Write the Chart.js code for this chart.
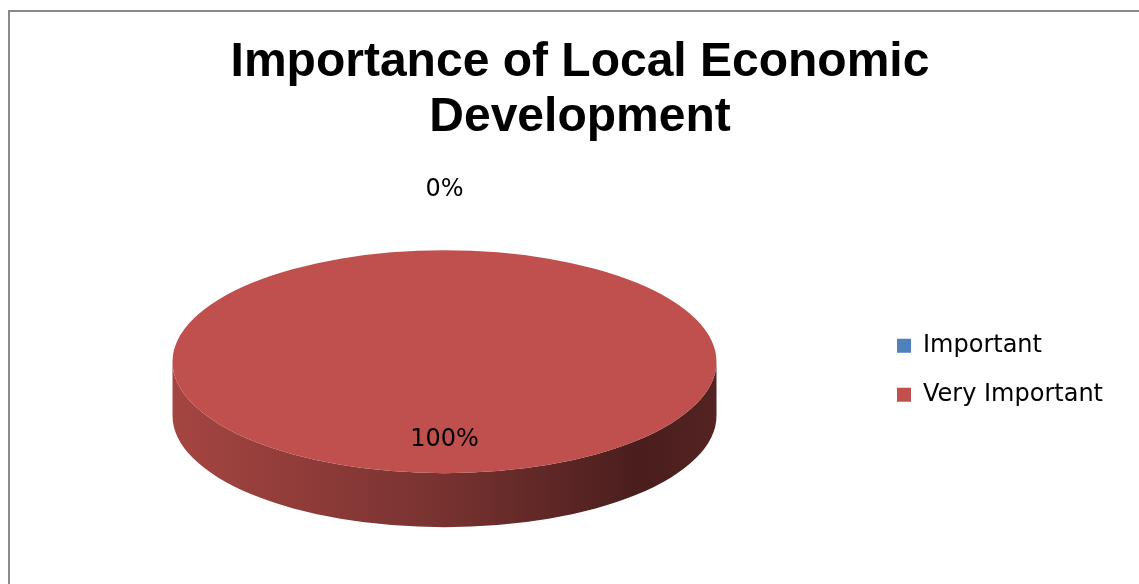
<!DOCTYPE html>
<html>
<head>
<meta charset="utf-8">
<script src="https://cdn.jsdelivr.net/npm/chart.js@4"></script>
<style>
html, body { margin: 0; padding: 0; background: #fff; overflow: hidden; }
#frame { position: absolute; left: 8px; top: 10px; width: 1200px; height: 700px; border: 2px solid #8a8a8a; }
#wrap { position: absolute; left: 0; top: 0; width: 1139px; height: 584px; }
</style>
</head>
<body>
<div id="frame"></div>
<div id="wrap"><canvas id="myChart"></canvas></div>
<script>
const categories = ['Important', 'Very Important'];
const shares = [0, 100];
const sliceColors = ['#4F81BD', '#C0504D'];
const titleLines = ['Importance of Local Economic', 'Development'];

// look of the tilted disc
const rx = 272, ry = 111.5, depth = 54, lift = -8.5, shiftX = -15;

function shade(hex, f) {
    const n = parseInt(hex.slice(1), 16);
    const r = Math.round(((n >> 16) & 255) * f);
    const g = Math.round(((n >> 8) & 255) * f);
    const b = Math.round((n & 255) * f);
    return 'rgb(' + r + ',' + g + ',' + b + ')';
}

// parts of an arc that face the viewer (angles 0..PI)
function frontRanges(s, e) {
    const out = [];
    for (let k = -1; k <= 1; k++) {
        const lo = Math.max(s, 2 * Math.PI * k);
        const hi = Math.min(e, Math.PI + 2 * Math.PI * k);
        if (hi > lo) out.push([lo - 2 * Math.PI * k, hi - 2 * Math.PI * k]);
    }
    return out;
}

const tiltPlugin = {
    id: 'tilt',
    beforeDatasetsDraw(chart) {
        const ctx = chart.ctx;
        const arcs = chart.getDatasetMeta(0).data;
        const a0 = arcs[0];
        const cx = a0.x + shiftX, cy = a0.y + lift, R = a0.outerRadius;
        arcs.forEach((arc, i) => {
            frontRanges(arc.startAngle, arc.endAngle).forEach(([lo, hi]) => {
                const grad = ctx.createLinearGradient(cx - rx, 0, cx + rx, 0);
                grad.addColorStop(0, shade(sliceColors[i], 0.86));
                grad.addColorStop(0.5, shade(sliceColors[i], 0.62));
                grad.addColorStop(0.86, shade(sliceColors[i], 0.38));
                grad.addColorStop(1, shade(sliceColors[i], 0.44));
                ctx.beginPath();
                ctx.ellipse(cx, cy, rx, ry, 0, lo, hi);
                ctx.ellipse(cx, cy + depth, rx, ry, 0, hi, lo, true);
                ctx.closePath();
                ctx.fillStyle = grad;
                ctx.fill();
            });
        });
        ctx.save();
        ctx.translate(cx, cy);
        ctx.scale(rx / R, ry / R);
        ctx.translate(-a0.x, -a0.y);
    },
    afterDatasetsDraw(chart) {
        const ctx = chart.ctx;
        ctx.restore();
        const arcs = chart.getDatasetMeta(0).data;
        const cx = arcs[0].x + shiftX, cy = arcs[0].y + lift;
        const total = shares.reduce((a, b) => a + b, 0);
        ctx.save();
        ctx.font = '24px "DejaVu Sans"';
        ctx.fillStyle = '#000';
        ctx.textAlign = 'center';
        ctx.textBaseline = 'middle';
        arcs.forEach((arc, i) => {
            const mid = (arc.startAngle + arc.endAngle) / 2;
            const frac = shares[i] / total;
            const r = frac < 0.05 ? 1.54 : 0.7;
            ctx.fillText(Math.round(frac * 100) + '%', cx + Math.cos(mid) * r * rx, cy + Math.sin(mid) * r * ry);
        });
        ctx.restore();
    }
};

const chart = new Chart(document.getElementById('myChart'), {
    type: 'pie',
    data: {
        labels: categories,
        datasets: [{
            data: shares,
            backgroundColor: sliceColors,
            borderWidth: 0,
            clip: false
        }]
    },
    options: {
        responsive: true,
        maintainAspectRatio: false,
        animation: false,
        events: [],
        layout: { padding: { left: 47, right: 26, top: 0, bottom: 0 } },
        plugins: {
            title: {
                display: true,
                text: titleLines,
                color: '#000',
                font: { family: 'Liberation Sans', size: 48, weight: 'bold', lineHeight: 1.15 },
                padding: { top: 35, bottom: 11 }
            },
            legend: {
                position: 'right',
                fullSize: false,
                labels: {
                    boxWidth: 14,
                    boxHeight: 14,
                    color: '#000',
                    font: { family: 'DejaVu Sans', size: 24 },
                    padding: 25
                }
            },
            tooltip: { enabled: false }
        }
    },
    plugins: [tiltPlugin]
});
</script>
</body>
</html>
